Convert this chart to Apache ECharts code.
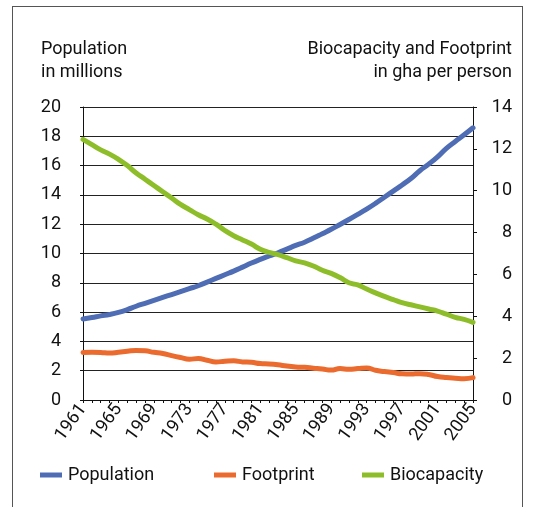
<!DOCTYPE html>
<html>
<head>
<meta charset="utf-8">
<script src="https://cdn.jsdelivr.net/npm/echarts@6/dist/echarts.min.js"></script>
<style>
  html, body { margin: 0; padding: 0; background: #fff; }
  #frame { position: absolute; left: 12px; top: 6px; width: 511px; height: 520px; border: 1px solid #555; box-sizing: border-box; }
  #chart { position: absolute; left: 0; top: 0; width: 545px; height: 507px; }
</style>
</head>
<body>
<div id="frame"></div>
<div id="chart"></div>
<script>
const years = []
for (let y = 1961; y <= 2005; y++) years.push(String(y))

// population, millions (left axis)
const population = [
  5.53, 5.63, 5.74, 5.84, 5.98, 6.17, 6.40, 6.60, 6.80, 7.00,
  7.20, 7.40, 7.60, 7.80, 8.05, 8.30, 8.55, 8.80, 9.07, 9.35,
  9.60, 9.83, 10.05, 10.30, 10.55, 10.77, 11.05, 11.35, 11.65, 11.98,
  12.32, 12.67, 13.03, 13.42, 13.84, 14.26, 14.68, 15.12, 15.65, 16.10,
  16.60, 17.18, 17.65, 18.10, 18.58
]
// gha per person (right axis)
const footprint = [
  2.27, 2.28, 2.27, 2.24, 2.28, 2.33, 2.37, 2.35, 2.28, 2.22,
  2.12, 2.03, 1.95, 1.98, 1.90, 1.82, 1.85, 1.87, 1.82, 1.80,
  1.74, 1.72, 1.68, 1.62, 1.58, 1.56, 1.52, 1.48, 1.43, 1.50,
  1.47, 1.50, 1.53, 1.42, 1.36, 1.31, 1.25, 1.24, 1.26, 1.22,
  1.12, 1.07, 1.04, 1.02, 1.07
]
const biocapacity = [
  12.45, 12.20, 11.95, 11.75, 11.50, 11.20, 10.85, 10.55, 10.25, 9.95,
  9.65, 9.35, 9.10, 8.85, 8.65, 8.40, 8.10, 7.85, 7.65, 7.45,
  7.20, 7.05, 6.95, 6.80, 6.65, 6.55, 6.40, 6.20, 6.05, 5.85,
  5.60, 5.50, 5.30, 5.12, 4.95, 4.80, 4.65, 4.55, 4.45, 4.35,
  4.25, 4.10, 3.95, 3.85, 3.71
]
const leftTicks = { min: 0, max: 20, interval: 2 }
const rightTicks = { min: 0, max: 14, interval: 2 }

const font = 'Roboto, sans-serif'
const txt = { color: '#111', fontFamily: font, fontSize: 18 }
const colors = { Population: '#4f6db5', Footprint: '#eb6a2e', Biocapacity: '#8dbe2a' }

function legendAt(name, left) {
  return {
    data: [name], left: left, top: 466, padding: 0,
    icon: 'rect', itemWidth: 22, itemHeight: 5, itemGap: 0,
    textStyle: Object.assign({}, txt, { padding: [0, 0, 0, 1] })
  }
}

function line(name, data, axis) {
  return {
    name: name, type: 'line', yAxisIndex: axis, data: data,
    symbol: 'none', smooth: true,
    lineStyle: { color: colors[name], width: 5, cap: 'round' },
    itemStyle: { color: colors[name] },
    animation: false
  }
}

const chart = echarts.init(document.getElementById('chart'))
chart.setOption({
  backgroundColor: 'transparent',
  title: [
    { text: 'Population\nin millions', left: 41, top: 38, padding: 0, textStyle: Object.assign({}, txt, { fontWeight: 'normal', lineHeight: 23 }) },
    { text: 'Biocapacity and Footprint\nin gha per person', left: 512, top: 38, padding: 0, textAlign: 'right', textStyle: Object.assign({}, txt, { fontWeight: 'normal', lineHeight: 23, align: 'right' }) }
  ],
  legend: [legendAt('Population', 40), legendAt('Footprint', 214), legendAt('Biocapacity', 362)],
  grid: { left: 83, right: 72, top: 107, bottom: 107 },
  xAxis: {
    type: 'category', data: years, boundaryGap: false,
    axisLine: { lineStyle: { color: '#111', width: 1 } },
    axisTick: { interval: 0, length: 3, lineStyle: { color: '#111' } },
    axisLabel: Object.assign({}, txt, { interval: 3, rotate: 54, margin: 6 })
  },
  yAxis: [
    {
      type: 'value', min: leftTicks.min, max: leftTicks.max, interval: leftTicks.interval,
      axisLine: { show: true, lineStyle: { color: '#111' } },
      axisTick: { show: true, length: 3, lineStyle: { color: '#111' } },
      splitLine: { lineStyle: { color: '#222', width: 1 } },
      axisLabel: Object.assign({}, txt, { margin: 22, padding: [0, 0, 6, 0] })
    },
    {
      type: 'value', min: rightTicks.min, max: rightTicks.max, interval: rightTicks.interval,
      position: 'right',
      axisLine: { show: true, lineStyle: { color: '#111' } },
      axisTick: { show: true, length: 4, lineStyle: { color: '#111' } },
      splitLine: { show: false },
      axisLabel: Object.assign({}, txt, { margin: 39, align: 'right', padding: [0, 0, 6, 0] })
    }
  ],
  series: [
    line('Population', population, 0),
    line('Footprint', footprint, 1),
    line('Biocapacity', biocapacity, 1)
  ]
})
</script>
</body>
</html>
